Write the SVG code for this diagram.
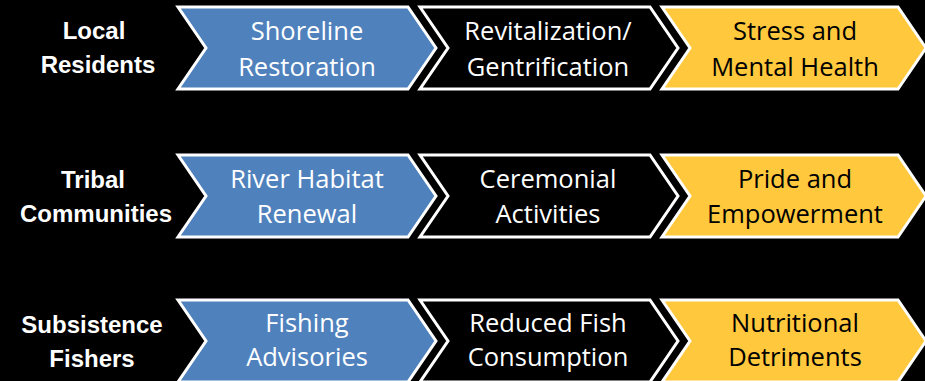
<svg xmlns="http://www.w3.org/2000/svg" width="925" height="381" viewBox="0 0 925 381">
<style>
.bg{fill:#000}
.chev{stroke:#fff;stroke-width:3;stroke-linejoin:miter}
.blue{fill:#4F81BD}
.dark{fill:#000}
.gold{fill:#FFC83D}
.t{font-family:"Open Sans","Liberation Sans",sans-serif;font-size:25.5px;text-anchor:middle}
.w{fill:#fff}
.k{fill:#000}
.lab{font-family:"Liberation Sans",Arial,sans-serif;font-size:24px;font-weight:bold;fill:#fff;text-anchor:middle}
</style>
<defs>
<polygon id="c1" class="chev" points="178,0 408,0 436,41 408,82 178,82 206,41"/>
<polygon id="c2" class="chev" points="420,0 650,0 678,41 650,82 420,82 448,41"/>
<polygon id="c3" class="chev" points="662,0 898,0 926,41 898,82 662,82 690,41"/>
</defs>
<rect class="bg" x="0" y="0" width="925" height="381"/>

<g id="row1" transform="translate(0,7)">
<g id="local-residents"><text class="lab" x="94" y="32">Local</text><text class="lab" x="98" y="66">Residents</text></g>
<g id="shoreline-restoration"><use href="#c1" class="blue"/><text class="t w" x="307" y="33">Shoreline</text><text class="t w" x="307" y="69">Restoration</text></g>
<g id="revitalization"><use href="#c2" class="dark"/><text class="t w" x="548" y="33">Revitalization/</text><text class="t w" x="548" y="69">Gentrification</text></g>
<g id="stress"><use href="#c3" class="gold"/><text class="t k" x="795" y="33">Stress and</text><text class="t k" x="795" y="69">Mental Health</text></g>
</g>

<g id="row2" transform="translate(0,155)">
<g id="tribal-communities"><text class="lab" x="93" y="33">Tribal</text><text class="lab" x="96" y="67">Communities</text></g>
<g id="river-habitat"><use href="#c1" class="blue"/><text class="t w" x="307" y="33">River Habitat</text><text class="t w" x="307" y="68">Renewal</text></g>
<g id="ceremonial"><use href="#c2" class="dark"/><text class="t w" x="548" y="33">Ceremonial</text><text class="t w" x="548" y="68">Activities</text></g>
<g id="pride"><use href="#c3" class="gold"/><text class="t k" x="795" y="33">Pride and</text><text class="t k" x="795" y="68">Empowerment</text></g>
</g>

<g id="row3" transform="translate(0,300)">
<g id="subsistence-fishers"><text class="lab" x="92" y="33">Subsistence</text><text class="lab" x="92" y="67">Fishers</text></g>
<g id="fishing-advisories"><use href="#c1" class="blue"/><text class="t w" x="307" y="32">Fishing</text><text class="t w" x="307" y="66">Advisories</text></g>
<g id="reduced-fish"><use href="#c2" class="dark"/><text class="t w" x="548" y="32">Reduced Fish</text><text class="t w" x="548" y="66">Consumption</text></g>
<g id="nutritional"><use href="#c3" class="gold"/><text class="t k" x="795" y="32">Nutritional</text><text class="t k" x="795" y="66">Detriments</text></g>
</g>
<g id="connectors"/>
</svg>
